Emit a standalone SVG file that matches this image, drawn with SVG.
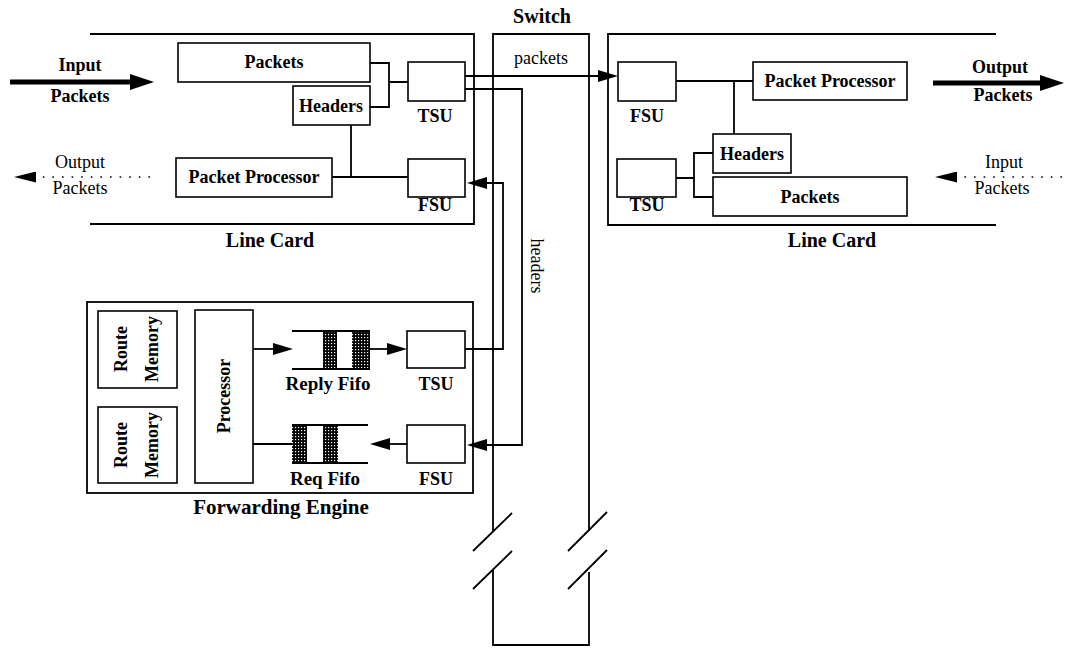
<svg xmlns="http://www.w3.org/2000/svg" width="1067" height="648" viewBox="0 0 1067 648">
<style>
.box{fill:#fff;stroke:#000;stroke-width:1.6}
.ln{fill:none;stroke:#000;stroke-width:1.8}
.thick{fill:none;stroke:#000;stroke-width:5}
.dot{fill:none;stroke:#000;stroke-width:1.6;stroke-dasharray:1.6 8}
.b{font-family:"Liberation Serif",serif;font-weight:bold;font-size:18px;text-anchor:middle;fill:#000}
.r{font-family:"Liberation Serif",serif;font-size:18px;text-anchor:middle;fill:#000}
.t{font-family:"Liberation Serif",serif;font-weight:bold;font-size:20px;text-anchor:middle;fill:#000}
.hatch{fill:url(#hp);stroke:none}
</style>
<defs>
<pattern id="hp" width="3" height="3" patternUnits="userSpaceOnUse">
<rect width="3" height="3" fill="#000"/>
<rect x="1" y="1" width="1.2" height="1.2" fill="#fff"/>
</pattern>
<marker id="a" markerUnits="userSpaceOnUse" markerWidth="20" markerHeight="12" refX="0" refY="6" orient="auto"><path d="M0,0 L20,6 L0,12 z" fill="#000"/></marker>
<marker id="big" markerUnits="userSpaceOnUse" markerWidth="24" markerHeight="16" refX="0" refY="8" orient="auto"><path d="M0,0 L24,8 L0,16 z" fill="#000"/></marker>
<marker id="sm" markerUnits="userSpaceOnUse" markerWidth="22" markerHeight="11" refX="0" refY="5.5" orient="auto"><path d="M0,0 L22,5.5 L0,11 z" fill="#000"/></marker>
</defs>
<rect width="1067" height="648" fill="#fff"/>

<g id="switch">
<path class="ln" d="M493,531 V34 H589 V531 M493,570 V645 H589 V572"/>
<path class="ln" d="M473,551 L512,513 M473,589 L512,551 M568,551 L607,512 M568,589 L607,550"/>
<text class="t" x="542" y="23">Switch</text>
</g>

<g id="line-card-left">
<path class="ln" d="M90,34 H474 V224 H90"/>
<text class="t" x="270" y="247">Line Card</text>
</g>
<g id="line-card-right">
<path class="ln" d="M996,34 H608 V225 H996"/>
<text class="t" x="832" y="247">Line Card</text>
</g>

<g id="forwarding-engine">
<rect class="ln" x="87" y="302" width="386" height="191"/>
<text class="t" x="281" y="514" style="font-size:21px">Forwarding Engine</text>
</g>

<g id="connectors">
<path class="ln" d="M370,63 H389 V107 H370 M389,82 H408"/>
<path class="ln" d="M351,125 V177 M332,177 H408"/>
<path class="ln" d="M465,76 H598" marker-end="url(#a)"/>
<path class="ln" d="M465,89 H522 V445 H487" marker-end="url(#a)"/>
<path class="ln" d="M465,349 H503 V183 H487" marker-end="url(#a)"/>
<path class="ln" d="M676,81 H753 M734,81 V134"/>
<path class="ln" d="M676,178 H694 M713,153 H694 V197 H713"/>
<path class="ln" d="M253,349 H273" marker-end="url(#a)"/>
<path class="ln" d="M370,349 H387" marker-end="url(#a)"/>
<path class="ln" d="M407,444 H390" marker-end="url(#a)"/>
<path class="ln" d="M253,444 H292"/>
<path class="thick" d="M10,82 H130" marker-end="url(#big)"/>
<path class="thick" d="M933,83 H1040" marker-end="url(#big)"/>
<path class="dot" d="M150,177 H36" marker-end="url(#sm)"/>
<path class="dot" d="M1062,177 H957" marker-end="url(#sm)"/>
</g>

<g id="io-labels">
<text class="b" x="80" y="71">Input</text>
<text class="b" x="80" y="102">Packets</text>
<text class="r" x="80" y="168">Output</text>
<text class="r" x="80" y="194">Packets</text>
<text class="b" x="1000" y="73">Output</text>
<text class="b" x="1003" y="101">Packets</text>
<text class="r" x="1004" y="168">Input</text>
<text class="r" x="1002" y="194">Packets</text>
<text class="r" x="541" y="64">packets</text>
<text class="r" transform="translate(531,266) rotate(90)">headers</text>
</g>

<g id="lc-left-packets"><rect class="box" x="178" y="43" width="192" height="39"/><text class="b" x="274" y="68">Packets</text></g>
<g id="lc-left-headers"><rect class="box" x="293" y="86" width="77" height="39"/><text class="b" x="331" y="112">Headers</text></g>
<g id="lc-left-pp"><rect class="box" x="176" y="158" width="156" height="39"/><text class="b" x="254" y="183">Packet Processor</text></g>
<g id="lc-left-tsu"><rect class="box" x="408" y="62" width="57" height="39"/><text class="b" x="435" y="122">TSU</text></g>
<g id="lc-left-fsu"><rect class="box" x="408" y="159" width="57" height="38"/><text class="b" x="435" y="211">FSU</text></g>

<g id="lc-right-fsu"><rect class="box" x="618" y="62" width="58" height="39"/><text class="b" x="647" y="122">FSU</text></g>
<g id="lc-right-pp"><rect class="box" x="753" y="62" width="154" height="38"/><text class="b" x="830" y="87">Packet Processor</text></g>
<g id="lc-right-headers"><rect class="box" x="713" y="134" width="78" height="39"/><text class="b" x="752" y="160">Headers</text></g>
<g id="lc-right-packets"><rect class="box" x="713" y="177" width="194" height="39"/><text class="b" x="810" y="203">Packets</text></g>
<g id="lc-right-tsu"><rect class="box" x="617" y="159" width="59" height="38"/><text class="b" x="647" y="211">TSU</text></g>

<g id="route-memory-1"><rect class="box" x="98" y="311" width="79" height="77"/>
<text class="b" transform="translate(127,349) rotate(-90)">Route</text>
<text class="b" transform="translate(158,349) rotate(-90)">Memory</text></g>
<g id="route-memory-2"><rect class="box" x="98" y="407" width="79" height="76"/>
<text class="b" transform="translate(127,445) rotate(-90)">Route</text>
<text class="b" transform="translate(158,445) rotate(-90)">Memory</text></g>
<g id="processor"><rect class="box" x="195" y="310" width="58" height="173"/>
<text class="b" transform="translate(230,396) rotate(-90)">Processor</text></g>

<g id="reply-fifo">
<rect class="hatch" x="323" y="331" width="14" height="38"/>
<rect class="hatch" x="352" y="331" width="18" height="38"/>
<path class="ln" d="M292,331 H370 M292,369 H370"/>
<text class="b" x="328" y="390" style="font-size:19px">Reply Fifo</text>
</g>
<g id="req-fifo">
<rect class="hatch" x="292" y="425" width="15" height="38"/>
<rect class="hatch" x="323" y="425" width="15" height="38"/>
<path class="ln" d="M292,425 H368 M292,463 H368"/>
<text class="b" x="325" y="485" style="font-size:19px">Req Fifo</text>
</g>
<g id="fe-tsu"><rect class="box" x="407" y="331" width="58" height="37"/><text class="b" x="436" y="390">TSU</text></g>
<g id="fe-fsu"><rect class="box" x="407" y="425" width="58" height="38"/><text class="b" x="436" y="485">FSU</text></g>
</svg>
